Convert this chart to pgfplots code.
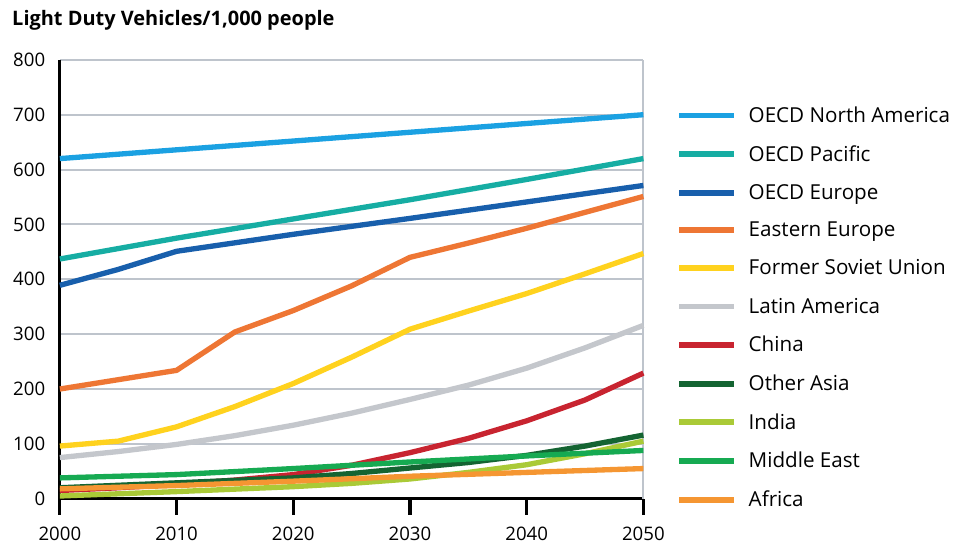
\documentclass[border=0pt]{standalone}
\usepackage{pgfplots}
\pgfplotsset{compat=1.18}
\usepackage{fontspec}
\setmainfont{Open Sans}
\definecolor{cNA}{RGB}{27,161,226}
\definecolor{cPac}{RGB}{22,173,163}
\definecolor{cEur}{RGB}{24,95,172}
\definecolor{cEE}{RGB}{238,118,52}
\definecolor{cFSU}{RGB}{255,210,30}
\definecolor{cLA}{RGB}{196,199,204}
\definecolor{cCN}{RGB}{200,36,48}
\definecolor{cOA}{RGB}{20,100,50}
\definecolor{cIN}{RGB}{170,202,55}
\definecolor{cME}{RGB}{22,170,82}
\definecolor{cAF}{RGB}{245,150,50}
\definecolor{gridgray}{RGB}{190,196,204}
\begin{document}
\begin{tikzpicture}
\begin{axis}[
  scale only axis,
  width=438.75pt, height=330pt,
  xmin=2000, xmax=2050, ymin=0, ymax=800,
  xtick={2000,2010,...,2050},
  ytick={0,100,...,800},
  axis lines*=left,
  axis line style={line width=2.4pt, black},
  x tick style={line width=2.4pt, black},
  y tick style={draw=none},
  major tick length=12pt,
  xtick pos=bottom,
  tick align=outside,
  ymajorgrids,
  grid style={line width=1.6pt, gridgray},
  xticklabel style={/pgf/number format/1000 sep={}, yshift=-6pt},
  /pgf/number format/assume math mode=true,
  tick label style={font=\fontsize{14}{16}\selectfont},
  yticklabel style={xshift=4.5pt},
  clip=false,
  every axis plot/.append style={line width=4pt, line join=round, line cap=butt},
  legend style={draw=none, at={(1,1)}, anchor=north west, xshift=21.5pt, yshift=-33pt,
    font=\fontsize{15.5}{18}\selectfont, row sep=15.8pt, column sep=9pt,
    nodes={inner sep=0pt}},
  legend cell align=left,
  legend image code/.code={\draw[#1, line width=4.5pt] (0pt,0pt) -- (41pt,0pt);},
]
\path ([xshift=-45pt,yshift=45pt]rel axis cs:0,1) -- ([yshift=-35.5pt]rel axis cs:0,0);
\draw[gridgray, line width=1.6pt] (rel axis cs:1,0) -- (rel axis cs:1,1);
\addplot[cNA] coordinates {(2000,620) (2010,636) (2020,652) (2030,668) (2040,684) (2050,700)};
\addlegendentry{OECD North America}
\addplot[cPac] coordinates {(2000,437) (2010,475) (2020,510) (2030,545) (2040,582) (2050,620)};
\addlegendentry{OECD Pacific}
\addplot[cEur] coordinates {(2000,389) (2005,418) (2010,451) (2020,482) (2030,511) (2040,541) (2050,571)};
\addlegendentry{OECD Europe}
\addplot[cEE] coordinates {(2000,200) (2005,217) (2010,234) (2015,304) (2020,343) (2025,388) (2030,440) (2035,466) (2040,493) (2045,522) (2050,551)};
\addlegendentry{Eastern Europe}
\addplot[cFSU] coordinates {(2000,96) (2005,105) (2010,131) (2015,168) (2020,210) (2025,258) (2030,309) (2035,342) (2040,374) (2045,410) (2050,447)};
\addlegendentry{Former Soviet Union}
\addplot[cLA] coordinates {(2000,75) (2005,86) (2010,99) (2015,115) (2020,134) (2025,156) (2030,181) (2035,207) (2040,238) (2045,275) (2050,316)};
\addlegendentry{Latin America}
\addplot[cCN] coordinates {(2000,15) (2005,20) (2010,26) (2015,34) (2020,44) (2025,61) (2030,84) (2035,110) (2040,142) (2045,180) (2050,229)};
\addlegendentry{China}
\addplot[cOA] coordinates {(2000,20) (2010,29) (2020,38) (2025,46) (2030,56) (2035,66) (2040,79) (2045,96) (2050,116)};
\addlegendentry{Other Asia}
\addplot[cIN] coordinates {(2000,5) (2010,13) (2020,22) (2025,28) (2030,36) (2035,48) (2040,62) (2045,82) (2050,105)};
\addlegendentry{India}
\addplot[cME] coordinates {(2000,38) (2010,44) (2020,55) (2030,67) (2040,78) (2050,88)};
\addlegendentry{Middle East}
\addplot[cAF] coordinates {(2000,18) (2010,24) (2020,32) (2030,41) (2040,48) (2050,55)};
\addlegendentry{Africa}
\node[anchor=west, inner sep=0pt, font=\fontsize{15}{17}\selectfont\bfseries] at ([xshift=-36pt,yshift=30pt]rel axis cs:0,1) {Light Duty Vehicles/1,000 people};
\end{axis}
\end{tikzpicture}
\end{document}
